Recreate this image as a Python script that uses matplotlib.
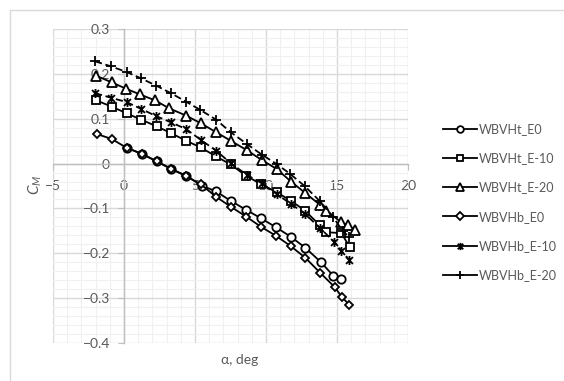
import numpy as np
import matplotlib
matplotlib.use("Agg")
import matplotlib.pyplot as plt
from matplotlib.path import Path
from matplotlib.patches import Rectangle
from matplotlib.ticker import MultipleLocator

plt.rcParams['font.family'] = ['Lato', 'DejaVu Sans']
plt.rcParams['mathtext.fontset'] = 'custom'
plt.rcParams['mathtext.it'] = 'Lato:italic'
plt.rcParams['mathtext.rm'] = 'Lato'

# pitching moment vs angle of attack
a_t0 = [0.19, 1.24, 2.3, 3.3, 4.37, 5.47, 6.48, 7.51, 8.59, 9.65, 10.7, 11.74, 12.78, 13.84, 14.74, 15.28]
cm_t0 = [0.035, 0.022, 0.005, -0.012, -0.027, -0.049, -0.062, -0.083, -0.103, -0.122, -0.142, -0.163, -0.188, -0.219, -0.250, -0.257]

a_t10 = [-1.97, -0.87, 0.19, 1.2, 2.3, 3.3, 4.37, 5.4, 6.48, 7.51, 8.59, 9.65, 10.75, 11.76, 12.75, 13.8, 14.2, 15.3, 15.9]
cm_t10 = [0.141, 0.127, 0.112, 0.098, 0.083, 0.068, 0.051, 0.036, 0.016, -0.002, -0.027, -0.046, -0.064, -0.083, -0.105, -0.138, -0.153, -0.155, -0.186]

a_t20 = [-1.97, -0.87, 0.14, 1.13, 2.18, 3.19, 4.37, 5.4, 6.48, 7.51, 8.64, 9.7, 10.75, 11.76, 12.78, 13.8, 14.26, 15.3, 15.8, 16.3]
cm_t20 = [0.196, 0.181, 0.167, 0.154, 0.141, 0.123, 0.107, 0.090, 0.070, 0.051, 0.030, 0.008, -0.012, -0.040, -0.066, -0.092, -0.105, -0.131, -0.138, -0.148]

a_b0 = [-1.93, -0.87, 0.19, 1.24, 2.3, 3.3, 4.37, 5.4, 6.48, 7.51, 8.59, 9.65, 10.7, 11.74, 12.77, 13.8, 14.86, 15.33, 15.87]
cm_b0 = [0.066, 0.055, 0.035, 0.022, 0.005, -0.011, -0.028, -0.046, -0.074, -0.096, -0.118, -0.141, -0.161, -0.184, -0.210, -0.243, -0.276, -0.297, -0.315]

a_b10 = [-2.04, -0.94, 0.19, 1.2, 2.25, 3.3, 4.37, 5.4, 6.48, 7.51, 8.64, 9.7, 10.75, 11.76, 12.75, 13.8, 14.8, 15.3, 15.87]
cm_b10 = [0.157, 0.147, 0.137, 0.122, 0.106, 0.092, 0.077, 0.053, 0.029, 0.001, -0.025, -0.044, -0.068, -0.090, -0.112, -0.144, -0.174, -0.194, -0.215]

a_b20 = [-2.04, -0.94, 0.19, 1.2, 2.25, 3.3, 4.37, 5.35, 6.48, 7.51, 8.64, 9.7, 10.75, 11.7, 12.75, 13.8, 14.74, 15.4, 15.87]
cm_b20 = [0.228, 0.217, 0.204, 0.190, 0.174, 0.157, 0.138, 0.120, 0.098, 0.070, 0.044, 0.020, -0.001, -0.023, -0.051, -0.084, -0.120, -0.150, -0.164]

labels = ['WBVHt_E0', 'WBVHt_E-10', 'WBVHt_E-20', 'WBVHb_E0', 'WBVHb_E-10', 'WBVHb_E-20']

# asterisk marker: an x with a vertical bar through it
star = Path([(-1, -1), (1, 1), (-1, 1), (1, -1), (0, -1.3), (0, 1.3)],
            [Path.MOVETO, Path.LINETO, Path.MOVETO, Path.LINETO, Path.MOVETO, Path.LINETO])

series = [
    (a_t0, cm_t0, 'o', '-', 6.0),
    (a_t10, cm_t10, 's', '-', 6.0),
    (a_t20, cm_t20, '^', '-', 6.5),
    (a_b0, cm_b0, 'D', '-', 4.5),
    (a_b10, cm_b10, star, '--', 6.5),
    (a_b20, cm_b20, '+', '--', 7.0),
]

fig = plt.figure(figsize=(5.64, 3.81), dpi=100)
ax = fig.add_axes([53 / 564, 1 - 343 / 381, 355 / 564, 314 / 381])

# chart frame
fig.patches.append(Rectangle((10 / 564, -0.1), 1.2, 1 - 10 / 381 + 0.1, transform=fig.transFigure,
                             fill=False, edgecolor='#d9d9d9', linewidth=1.0))

for (x, y, m, ls, ms), lab in zip(series, labels):
    ax.plot(x, y, linestyle=ls, dashes=(4, 2) if ls == '--' else (None, None),
            color='black', linewidth=1.3, marker=m, markersize=ms,
            markerfacecolor='white', markeredgecolor='black', markeredgewidth=1.3,
            label=lab, zorder=4)

ax.set_xlim(-5, 20)
ax.set_ylim(-0.4, 0.3)
ax.xaxis.set_major_locator(MultipleLocator(5))
ax.xaxis.set_minor_locator(MultipleLocator(1))
ax.yaxis.set_major_locator(MultipleLocator(0.1))
ax.yaxis.set_minor_locator(MultipleLocator(0.02))
ax.grid(which='major', color='#d9d9d9', linewidth=1.0)
ax.grid(which='minor', color='#f0f0f0', linewidth=0.8)
ax.set_axisbelow(True)

ax.spines['left'].set_position(('data', 0))
ax.spines['bottom'].set_position(('data', 0))
ax.spines['top'].set_visible(False)
ax.spines['right'].set_visible(False)
for s in ('left', 'bottom'):
    ax.spines[s].set_color('#bfbfbf')
    ax.spines[s].set_linewidth(1.0)

ax.tick_params(which='major', length=4, color='#bfbfbf', labelcolor='#595959', labelsize=10)
ax.tick_params(axis='x', pad=8)
ax.tick_params(axis='y', pad=6)
ax.tick_params(which='minor', length=0)
ax.set_yticks(np.arange(-0.4, 0.31, 0.1))
ax.set_yticklabels(['\u22120.4', '\u22120.3', '\u22120.2', '\u22120.1', '0', '0.1', '0.2', '0.3'])
ax.set_xticks([-5, 0, 5, 10, 15, 20])
ax.set_xticklabels(['\u22125', '0', '5', '10', '15', '20'])

fig.text(35 / 564, 1 - 185 / 381, '$C_M$', rotation=90, ha='center', va='center',
         color='#595959', fontsize=11)
fig.text(240 / 564, 1 - 360 / 381, '\u03b1, deg', ha='center', va='center',
         color='#595959', fontsize=10)

leg = fig.legend(loc='upper left', bbox_to_anchor=(438 / 564, 1 - 118 / 381), frameon=False,
                 fontsize=9, labelcolor='#595959', handlelength=2.7, handletextpad=0.2,
                 labelspacing=1.38, borderaxespad=0, markerscale=0.8)
for h in leg.legend_handles:
    h.set_linestyle('-')

fig.savefig('out.png', dpi=100)
